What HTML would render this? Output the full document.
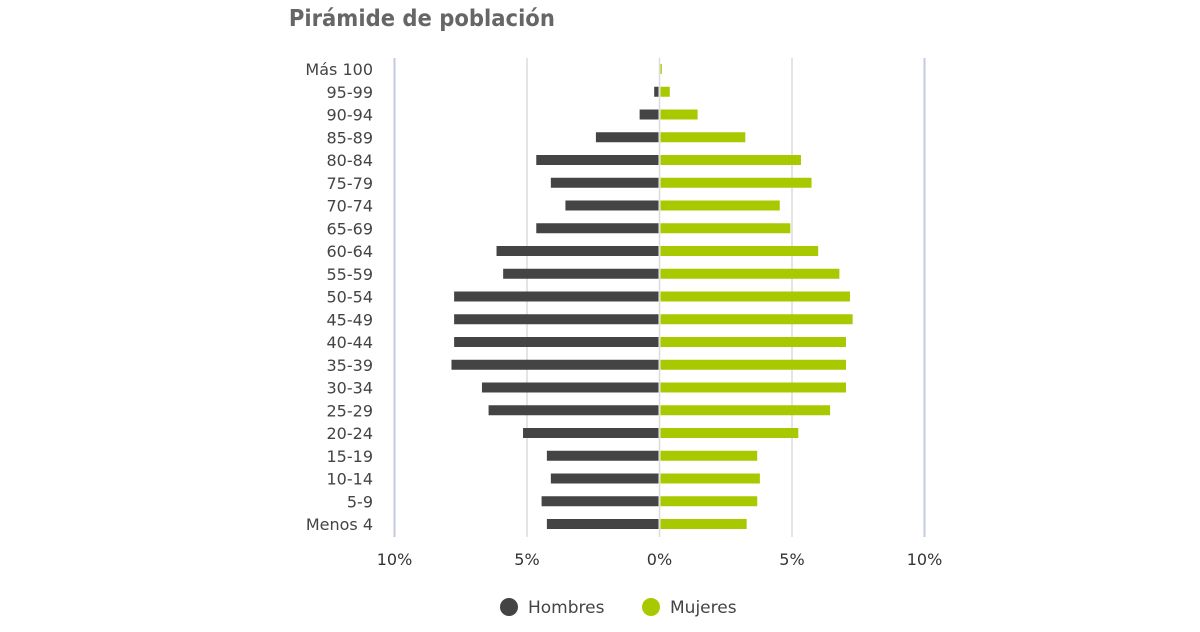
<!DOCTYPE html>
<html><head><meta charset="utf-8">
<style>
html,body{margin:0;padding:0;background:#fff;}
body{width:1200px;height:627px;overflow:hidden;font-family:"Liberation Sans","DejaVu Sans",sans-serif;}
</style></head>
<body>
<svg id="chart" width="1200" height="627" xmlns="http://www.w3.org/2000/svg">
<text x="289" y="26" font-family="DejaVu Sans, Liberation Sans, sans-serif" font-weight="bold" font-size="23" fill="#666" transform="scale(0.92,1) translate(25,0)">Pirámide de población</text>
<g id="grid"></g>
<g id="bars"></g>
<g id="ylabels"></g>
<g id="xlabels"></g>
<g>
<g>
<circle cx="509" cy="607" r="9" fill="#444"/>
<text x="528" y="613" font-size="17" fill="#444" font-family="DejaVu Sans, sans-serif">Hombres</text>
</g>
<g>
<circle cx="651" cy="607" r="9" fill="#a8c800"/>
<text x="670" y="613" font-size="17" fill="#444" font-family="DejaVu Sans, sans-serif">Mujeres</text>
</g>
</g>
</svg>
<script>
const categories = ["Más 100","95-99","90-94","85-89","80-84","75-79","70-74","65-69","60-64","55-59","50-54","45-49","40-44","35-39","30-34","25-29","20-24","15-19","10-14","5-9","Menos 4"];
const hombres = [0,0.2,0.75,2.4,4.65,4.1,3.55,4.65,6.15,5.9,7.75,7.75,7.75,7.85,6.7,6.45,5.15,4.25,4.1,4.45,4.25];
const mujeres = [0.05,0.35,1.4,3.2,5.3,5.7,4.5,4.9,5.95,6.75,7.15,7.25,7.0,7.0,7.0,6.4,5.2,3.65,3.75,3.65,3.25];
const xTicks = [-10,-5,0,5,10];
const xTickLabels = ["10%","5%","0%","5%","10%"];

const NS="http://www.w3.org/2000/svg";
const x0=659.5, pxPer=26.5, yTop=69, yStep=22.75, barH=10, gTop=58, gBot=537;
const xs=v=>x0+v*pxPer;
const ys=i=>yTop+i*yStep;
function mk(tag,attrs,parent){const e=document.createElementNS(NS,tag);for(const k in attrs)e.setAttribute(k,attrs[k]);parent.appendChild(e);return e;}
const grid=document.getElementById('grid'),bars=document.getElementById('bars'),yl=document.getElementById('ylabels'),xl=document.getElementById('xlabels');
xTicks.forEach((t,i)=>{
  const outer=Math.abs(t)===10;
  const l=mk('line',{x1:xs(t),x2:xs(t),y1:gTop,y2:gBot,stroke:outer?'#c3cbe0':'#dcdcdc','stroke-width':outer?2:1.5},grid);
  
  
  const tx=mk('text',{x:xs(t),y:565,'text-anchor':'middle','font-size':16,fill:'#333','font-family':'DejaVu Sans, sans-serif'},xl);
  tx.textContent=xTickLabels[i];
  
  
});
categories.forEach((c,i)=>{
  const y=ys(i);
  const t=mk('text',{x:373,y:y+6,'text-anchor':'end','font-size':16,fill:'#444','font-family':'DejaVu Sans, sans-serif'},yl);
  t.textContent=c;
  
  
  if(hombres[i]>0){
    const b=mk('rect',{x:xs(-hombres[i]),y:y-barH/2,width:hombres[i]*pxPer-1,height:barH,fill:'#444'},bars);
    
    
  }
  if(mujeres[i]>0){
    const b=mk('rect',{x:x0+1,y:y-barH/2,width:Math.max(1,mujeres[i]*pxPer),height:barH,fill:'#a8c800'},bars);
    
    
  }
});
</script>
</body></html>
